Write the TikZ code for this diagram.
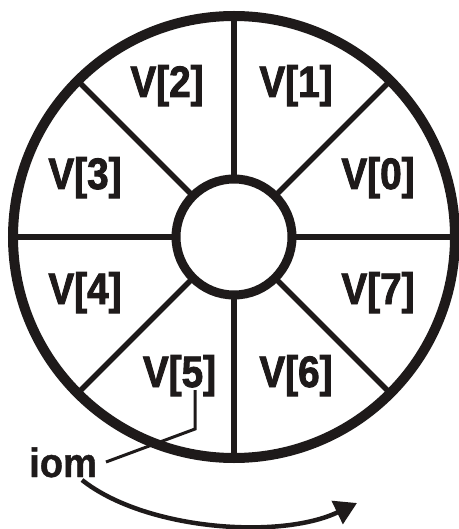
\documentclass[tikz,border=0pt]{standalone}
\usepackage{fontspec}
\setmainfont{Liberation Sans}
\newfontfamily\narrowsans[FakeStretch=0.88,FakeBold=2]{Liberation Sans Bold}
\newfontfamily\iomsans[FakeStretch=0.93,FakeBold=1]{Liberation Sans Bold}
\usetikzlibrary{arrows.meta,calc}
\definecolor{ink}{RGB}{30,26,26}
\begin{document}
\begin{tikzpicture}[x=1pt,y=1pt,
  ring/.style={draw=ink,line width=10pt},
  hub/.style={draw=ink,line width=9pt},
  spoke/.style={draw=ink,line width=5.5pt},
  lbl/.style={font=\narrowsans\fontsize{44}{44}\selectfont,text=ink,inner sep=0pt,anchor=base},
  iomlbl/.style={font=\iomsans\fontsize{41}{41}\selectfont,text=ink,inner sep=0pt,anchor=base west},
  leader/.style={draw=ink,line width=3pt},
  turn/.style={draw=ink,line width=4.5pt,-{Triangle[length=22pt,width=25pt]}}]
\useasboundingbox (0,0) rectangle (458,-529);
\coordinate (c) at (234,-237);
\draw[ring] (c) circle[radius=221];
\foreach \a in {0,45,...,315}{
  \draw[spoke] ($(c)+(\a:58)$) -- ($(c)+(\a:218)$);
}
\draw[hub,fill=white] (c) circle[radius=58];
\node[lbl] (v0) at (378,-189) {V[0]};
\node[lbl] (v1) at (296,-97) {V[1]};
\node[lbl] (v2) at (167,-97) {V[2]};
\node[lbl] (v3) at (85,-189) {V[3]};
\node[lbl] (v4) at (85,-304) {V[4]};
\node[lbl] (v5) at (179.5,-387) {V[5]};
\node[lbl] (v6) at (296,-387) {V[6]};
\node[lbl] (v7) at (378,-304) {V[7]};
\node[iomlbl] (iom) at (29,-477) {iom};
\coordinate (q) at (106,-462);
\coordinate (k) at (195,-429);
\coordinate (p) at (195,-390);
\draw[leader] (q) -- (k) -- (p);
\coordinate (s) at (82,-480);
\coordinate (e) at (357,-503);
\draw[turn] (s) .. controls (145,-530) and (280,-540) .. (e);
\end{tikzpicture}
\end{document}
